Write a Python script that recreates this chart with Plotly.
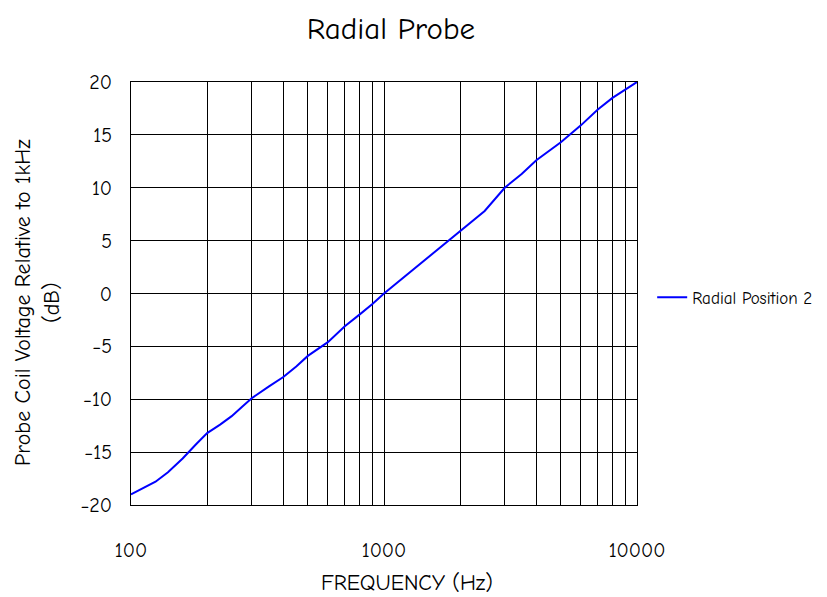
import plotly.graph_objects as go

freq = [100, 110, 125, 140, 160, 180, 200, 225, 250, 275, 300, 350, 400, 450, 500, 600, 700, 800, 900,
        1000, 1250, 1600, 2000, 2500, 3000, 3500, 4000, 5000, 6000, 7000, 8000, 9000, 10000]
level_db = [-19.0, -18.5, -17.8, -16.9, -15.6, -14.3, -13.2, -12.4, -11.6, -10.7, -9.9, -8.8, -7.9, -6.9, -5.9,
            -4.6, -3.1, -2.0, -1.0, 0.0, 1.9, 4.0, 5.9, 7.8, 10.0, 11.3, 12.6, 14.3, 15.9, 17.4, 18.5, 19.3, 20.0]
series_name = "Radial Position 2"
x_ticks = [100, 1000, 10000]
x_minor = [200, 300, 400, 500, 600, 700, 800, 900, 2000, 3000, 4000, 5000, 6000, 7000, 8000, 9000]
y_ticks = list(range(-20, 21, 5))

FONT = "Comic Sans MS, Comic Neue, Lato, sans-serif"

fig = go.Figure()
fig.add_trace(go.Scatter(x=freq, y=level_db, mode="lines", name=series_name,
                         line=dict(color="#0000FF", width=2)))

fig.update_layout(
    width=819, height=589,
    margin=dict(l=123, r=190, t=74, b=92, autoexpand=False),
    paper_bgcolor="white", plot_bgcolor="white",
    font=dict(family=FONT, size=20, color="black"),
    title=dict(text="Radial Probe", x=0.4676, xanchor="center", y=0.966, yanchor="middle",
               font=dict(size=31, family=FONT)),
    showlegend=True,
    legend=dict(x=1.03, xanchor="left", y=0.49, yanchor="middle", font=dict(size=17),
                bgcolor="rgba(0,0,0,0)"),
    annotations=[
        dict(text="FREQUENCY (Hz)", xref="paper", yref="paper", x=0.5455, y=-0.1844,
             xanchor="center", yanchor="middle", showarrow=False, font=dict(size=22)),
        dict(text="Probe Coil Voltage Relative to 1kHz<br>(dB)", xref="paper", yref="paper",
             x=-0.1838, y=0.48, xanchor="center", yanchor="middle", textangle=-90,
             showarrow=False, font=dict(size=22)),
    ],
)
fig.update_xaxes(
    type="log", range=[2, 4], tickvals=x_ticks, ticktext=[str(v) for v in x_ticks],
    showgrid=True, gridcolor="black", gridwidth=1,
    minor=dict(tickvals=x_minor, showgrid=True, gridcolor="black", gridwidth=1, ticks=""),
    showline=True, linecolor="black", linewidth=1, mirror=True,
    ticks="", ticklabelstandoff=27, tickfont=dict(size=20),
    zeroline=False,
)
fig.update_yaxes(
    range=[-20, 20], tickvals=y_ticks,
    showgrid=True, gridcolor="black", gridwidth=1,
    showline=True, linecolor="black", linewidth=1, mirror=True,
    ticks="", ticklabelstandoff=14, tickfont=dict(size=20),
    zeroline=False,
)

fig.write_html("out.html")
